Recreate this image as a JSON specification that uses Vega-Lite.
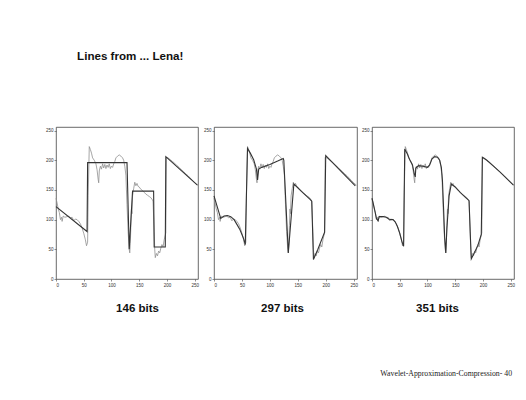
{
  "$schema": "https://vega.github.io/schema/vega-lite/v6.json",
  "background": "white",
  "padding": {"left": 45, "top": 51, "right": 4, "bottom": 6},
  "title": {"text": "Wavelet-Approximation-Compression- 40", "orient": "bottom", "anchor": "end", "font": "Liberation Serif", "fontSize": 7.8, "fontWeight": "normal", "color": "#222", "offset": 56, "dx": -4},
  "datasets": {
    "orig": [
      {"x":0,"y":136},{"x":2,"y":128},{"x":4,"y":118},{"x":6,"y":112},{"x":8,"y":100},{"x":10,"y":104},{"x":11,"y":97},{"x":13,"y":106},{"x":16,"y":104},{"x":20,"y":105},{"x":23,"y":106},{"x":26,"y":103},{"x":29,"y":104},{"x":32,"y":98},{"x":35,"y":101},{"x":38,"y":100},{"x":41,"y":97},{"x":44,"y":93},{"x":47,"y":86},{"x":50,"y":77},{"x":53,"y":66},{"x":55,"y":56},{"x":57,"y":62},{"x":58,"y":140},{"x":60,"y":223},{"x":62,"y":218},{"x":64,"y":212},{"x":66,"y":204},{"x":69,"y":200},{"x":72,"y":194},{"x":74,"y":184},{"x":76,"y":168},{"x":77,"y":162},{"x":78,"y":182},{"x":80,"y":190},{"x":82,"y":185},{"x":84,"y":194},{"x":86,"y":187},{"x":88,"y":193},{"x":90,"y":186},{"x":92,"y":192},{"x":94,"y":188},{"x":96,"y":194},{"x":98,"y":186},{"x":100,"y":190},{"x":102,"y":188},{"x":104,"y":194},{"x":106,"y":198},{"x":108,"y":204},{"x":111,"y":207},{"x":114,"y":209},{"x":117,"y":207},{"x":120,"y":204},{"x":122,"y":200},{"x":124,"y":190},{"x":126,"y":175},{"x":127,"y":150},{"x":128,"y":125},{"x":130,"y":80},{"x":132,"y":50},{"x":133,"y":44},{"x":134,"y":60},{"x":135,"y":90},{"x":136,"y":118},{"x":137,"y":110},{"x":138,"y":140},{"x":140,"y":152},{"x":142,"y":163},{"x":144,"y":157},{"x":146,"y":161},{"x":148,"y":156},{"x":150,"y":155},{"x":153,"y":151},{"x":156,"y":149},{"x":159,"y":146},{"x":162,"y":143},{"x":165,"y":141},{"x":168,"y":139},{"x":171,"y":137},{"x":174,"y":133},{"x":175,"y":130},{"x":177,"y":80},{"x":178,"y":50},{"x":179,"y":36},{"x":181,"y":43},{"x":183,"y":39},{"x":185,"y":47},{"x":187,"y":44},{"x":189,"y":52},{"x":191,"y":58},{"x":193,"y":54},{"x":195,"y":66},{"x":197,"y":74},{"x":198,"y":78},{"x":199,"y":205},{"x":202,"y":204},{"x":206,"y":201},{"x":210,"y":198},{"x":214,"y":195},{"x":218,"y":191},{"x":222,"y":188},{"x":226,"y":184},{"x":230,"y":181},{"x":234,"y":177},{"x":238,"y":174},{"x":242,"y":170},{"x":246,"y":166},{"x":250,"y":162},{"x":255,"y":158}
    ],
    "a146": [
      {"x":0,"y":122},{"x":56,"y":80},{"x":57,"y":196},{"x":128,"y":196},{"x":132,"y":50},{"x":138,"y":148},{"x":176,"y":148},{"x":177,"y":54},{"x":197,"y":54},{"x":198,"y":206},{"x":255,"y":158}
    ],
    "a297": [
      {"x":0,"y":140},{"x":12,"y":102},{"x":18,"y":106},{"x":24,"y":107},{"x":30,"y":105},{"x":36,"y":100},{"x":41,"y":92},{"x":46,"y":84},{"x":50,"y":75},{"x":53,"y":68},{"x":56,"y":58},{"x":60,"y":220},{"x":65,"y":212},{"x":71,"y":201},{"x":76,"y":185},{"x":78,"y":167},{"x":80,"y":185},{"x":85,"y":188},{"x":100,"y":193},{"x":115,"y":199},{"x":124,"y":203},{"x":125,"y":200},{"x":133,"y":44},{"x":143,"y":160},{"x":157,"y":147},{"x":172,"y":134},{"x":175,"y":131},{"x":178,"y":33},{"x":186,"y":50},{"x":198,"y":79},{"x":200,"y":208},{"x":253,"y":157}
    ],
    "a351": [
      {"x":0,"y":136},{"x":4,"y":120},{"x":8,"y":102},{"x":11,"y":98},{"x":13,"y":105},{"x":20,"y":105},{"x":26,"y":104},{"x":30,"y":101},{"x":34,"y":100},{"x":38,"y":100},{"x":42,"y":96},{"x":46,"y":88},{"x":50,"y":77},{"x":54,"y":63},{"x":57,"y":55},{"x":59,"y":219},{"x":64,"y":210},{"x":68,"y":201},{"x":73,"y":192},{"x":76,"y":178},{"x":78,"y":172},{"x":79,"y":187},{"x":84,"y":191},{"x":92,"y":190},{"x":100,"y":188},{"x":104,"y":192},{"x":108,"y":202},{"x":113,"y":206},{"x":118,"y":205},{"x":122,"y":200},{"x":125,"y":188},{"x":127,"y":166},{"x":129,"y":120},{"x":131,"y":70},{"x":133,"y":44},{"x":135,"y":85},{"x":137,"y":112},{"x":139,"y":140},{"x":141,"y":150},{"x":143,"y":160},{"x":150,"y":155},{"x":159,"y":146},{"x":168,"y":138},{"x":175,"y":132},{"x":177,"y":80},{"x":179,"y":34},{"x":185,"y":45},{"x":191,"y":57},{"x":197,"y":75},{"x":199,"y":205},{"x":207,"y":200},{"x":219,"y":190},{"x":231,"y":180},{"x":243,"y":169},{"x":255,"y":158}
    ]
  },
  "vconcat": [
    {
      "title": {"text": "Lines from ... Lena!", "anchor": "start", "font": "Liberation Sans", "fontSize": 11.6, "fontWeight": "bold", "color": "#111", "offset": 64, "dx": 32},
      "spacing": 2,
      "hconcat": [
        {
          "width": 142, "height": 152,
          "encoding": {
            "x": {"field": "x", "type": "quantitative", "scale": {"domain": [0, 256], "nice": false}, "axis": {"values": [0,50,100,150,200,250], "labelOverlap": false, "title": "146 bits", "titleX": 81}},
            "y": {"field": "y", "type": "quantitative", "scale": {"domain": [0, 256], "nice": false}, "axis": {"values": [0,50,100,150,200,250], "labelOverlap": false, "title": null}}
          },
          "layer": [
            {"data": {"name": "orig"}, "mark": {"type": "line", "color": "#8f8f8f", "strokeWidth": 0.8}},
            {"data": {"name": "a146"}, "mark": {"type": "line", "color": "#333", "strokeWidth": 1.1}}
          ]
        },
        {
          "width": 143, "height": 152,
          "encoding": {
            "x": {"field": "x", "type": "quantitative", "scale": {"domain": [0, 256], "nice": false}, "axis": {"values": [0,50,100,150,200,250], "labelOverlap": false, "title": "297 bits", "titleX": 68}},
            "y": {"field": "y", "type": "quantitative", "scale": {"domain": [0, 256], "nice": false}, "axis": {"values": [0,50,100,150,200,250], "labelOverlap": false, "title": null}}
          },
          "layer": [
            {"data": {"name": "orig"}, "mark": {"type": "line", "color": "#8f8f8f", "strokeWidth": 0.8}},
            {"data": {"name": "a297"}, "mark": {"type": "line", "color": "#333", "strokeWidth": 1.1}}
          ]
        },
        {
          "width": 142, "height": 152,
          "encoding": {
            "x": {"field": "x", "type": "quantitative", "scale": {"domain": [0, 256], "nice": false}, "axis": {"values": [0,50,100,150,200,250], "labelOverlap": false, "title": "351 bits", "titleX": 65}},
            "y": {"field": "y", "type": "quantitative", "scale": {"domain": [0, 256], "nice": false}, "axis": {"values": [0,50,100,150,200,250], "labelOverlap": false, "title": null}}
          },
          "layer": [
            {"data": {"name": "orig"}, "mark": {"type": "line", "color": "#8f8f8f", "strokeWidth": 0.8}},
            {"data": {"name": "a351"}, "mark": {"type": "line", "color": "#333", "strokeWidth": 1.1}}
          ]
        }
      ]
    }
  ],
  "config": {
    "view": {"stroke": "#444", "strokeWidth": 0.8},
    "axis": {
      "grid": false, "domain": false, "tickSize": 2, "tickColor": "#444", "tickWidth": 0.6,
      "labelFontSize": 4.5, "labelColor": "#333", "labelPadding": 1, "labelFont": "Liberation Sans", "labelOverlap": false,
      "titleFont": "Liberation Sans", "titleFontSize": 11.5, "titleFontWeight": "bold", "titleColor": "#111", "titlePadding": 16
    }
  }
}
